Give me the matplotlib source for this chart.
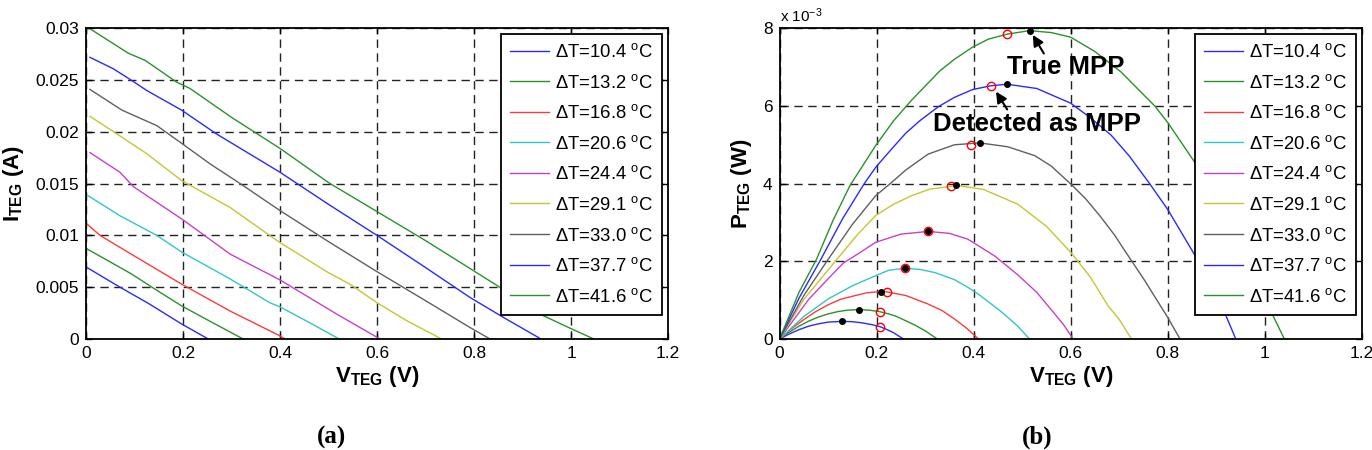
import numpy as np
import matplotlib.pyplot as plt

plt.rcParams['font.family'] = ['Liberation Sans', 'DejaVu Sans']
plt.rcParams['mathtext.fontset'] = 'custom'
plt.rcParams['mathtext.rm'] = 'Liberation Sans'
plt.rcParams['mathtext.it'] = 'Liberation Sans:italic'
plt.rcParams['mathtext.bf'] = 'Liberation Sans:bold'

# temperature differences and line colours (MATLAB style)
delta_t = ['10.4', '13.2', '16.8', '20.6', '24.4', '29.1', '33.0', '37.7', '41.6']
colors = ['#2a2aff', '#2a922a', '#ff3a3a', '#33c6c6', '#c840c8',
          '#c6c633', '#606060', '#2a2aff', '#2a922a']

# ---- (a) I-V curves: voltage (V), current (A)
iv_v_104 = [0.002, 0.07, 0.13, 0.197, 0.252]
iv_i_104 = [0.0069, 0.0050, 0.0034, 0.00145, 0.0]
iv_v_132 = [0.002, 0.093, 0.146, 0.197, 0.26, 0.324]
iv_i_132 = [0.0087, 0.0063, 0.0047, 0.0032, 0.0016, 0.0]
iv_v_168 = [0.002, 0.029, 0.093, 0.197, 0.297, 0.40, 0.41]
iv_i_168 = [0.0111, 0.0100, 0.0082, 0.0053, 0.0027, 0.0003, 0.0]
iv_v_206 = [0.002, 0.07, 0.146, 0.197, 0.297, 0.379, 0.40, 0.46, 0.522]
iv_i_206 = [0.0139, 0.0119, 0.0100, 0.0084, 0.0058, 0.0035, 0.0031, 0.0016, 0.0]
iv_v_244 = [0.008, 0.07, 0.098, 0.197, 0.297, 0.40, 0.517, 0.606]
iv_i_244 = [0.0180, 0.0161, 0.0147, 0.0116, 0.0082, 0.0057, 0.0024, 0.0]
iv_v_291 = [0.008, 0.067, 0.125, 0.197, 0.297, 0.40, 0.50, 0.544, 0.60, 0.66, 0.733]
iv_i_291 = [0.0215, 0.0197, 0.0179, 0.0153, 0.0127, 0.0093, 0.0064, 0.0053, 0.0035, 0.0018, 0.0]
iv_v_330 = [0.008, 0.074, 0.146, 0.197, 0.256, 0.318, 0.40, 0.50, 0.60, 0.70, 0.792, 0.833]
iv_i_330 = [0.0241, 0.0221, 0.0206, 0.0189, 0.0169, 0.0150, 0.0124, 0.0094, 0.0065, 0.0037, 0.0011, 0.0]
iv_v_377 = [0.008, 0.056, 0.093, 0.125, 0.197, 0.269, 0.40, 0.50, 0.60, 0.70, 0.792, 0.86, 0.938]
iv_i_377 = [0.0272, 0.0261, 0.0250, 0.0240, 0.0221, 0.0198, 0.0161, 0.0130, 0.0100, 0.0069, 0.0040, 0.0021, 0.0]
iv_v_416 = [0.01, 0.087, 0.122, 0.187, 0.214, 0.30, 0.40, 0.50, 0.60, 0.70, 0.792, 0.87, 0.936, 1.0, 1.047]
iv_i_416 = [0.0299, 0.0276, 0.0269, 0.0248, 0.0242, 0.0214, 0.0184, 0.0151, 0.0123, 0.0095, 0.0068, 0.0045, 0.0024, 0.0010, 0.0]

# ---- (b) P-V curves: voltage (V), power (x 1e-3 W)
pv_v_104 = [0, 0.02, 0.04, 0.06, 0.08, 0.10, 0.129, 0.15, 0.17, 0.19, 0.206, 0.22, 0.235, 0.255]
pv_p_104 = [0, 0.13, 0.24, 0.33, 0.39, 0.434, 0.455, 0.445, 0.415, 0.37, 0.32, 0.25, 0.16, 0]
pv_v_132 = [0, 0.02, 0.04, 0.06, 0.08, 0.10, 0.12, 0.14, 0.164, 0.185, 0.206, 0.225, 0.24, 0.26, 0.28, 0.30, 0.325]
pv_p_132 = [0, 0.175, 0.33, 0.46, 0.565, 0.645, 0.705, 0.742, 0.757, 0.742, 0.705, 0.645, 0.585, 0.47, 0.35, 0.21, 0]
pv_v_168 = [0, 0.025, 0.05, 0.075, 0.10, 0.125, 0.15, 0.18, 0.208, 0.222, 0.26, 0.306, 0.335, 0.36, 0.385, 0.41]
pv_p_168 = [0, 0.27, 0.50, 0.71, 0.88, 1.02, 1.10, 1.19, 1.22, 1.21, 1.12, 0.90, 0.73, 0.52, 0.28, 0]
pv_v_206 = [0, 0.05, 0.10, 0.15, 0.198, 0.225, 0.258, 0.29, 0.32, 0.36, 0.388, 0.409, 0.457, 0.49, 0.515]
pv_p_206 = [0, 0.58, 1.03, 1.37, 1.63, 1.77, 1.82, 1.79, 1.71, 1.53, 1.33, 1.16, 0.70, 0.34, 0]
pv_v_244 = [0, 0.06, 0.10, 0.131, 0.165, 0.198, 0.25, 0.306, 0.35, 0.388, 0.443, 0.491, 0.53, 0.56, 0.585, 0.605]
pv_p_244 = [0, 1.02, 1.55, 1.95, 2.22, 2.49, 2.70, 2.77, 2.72, 2.57, 2.14, 1.65, 1.20, 0.75, 0.37, 0]
pv_v_291 = [0, 0.05, 0.114, 0.16, 0.198, 0.235, 0.272, 0.31, 0.353, 0.363, 0.42, 0.491, 0.55, 0.60, 0.64, 0.677, 0.70, 0.725]
pv_p_291 = [0, 1.02, 1.99, 2.68, 3.18, 3.47, 3.69, 3.86, 3.93, 3.96, 3.85, 3.47, 2.90, 2.23, 1.60, 0.85, 0.50, 0]
pv_v_330 = [0, 0.05, 0.10, 0.15, 0.198, 0.227, 0.26, 0.306, 0.36, 0.412, 0.47, 0.526, 0.56, 0.60, 0.63, 0.66, 0.69, 0.711, 0.75, 0.78, 0.80, 0.825]
pv_p_330 = [0, 1.12, 2.05, 2.95, 3.69, 3.99, 4.35, 4.76, 5.0, 5.05, 4.95, 4.72, 4.45, 3.99, 3.62, 3.17, 2.68, 2.28, 1.55, 0.95, 0.55, 0]
pv_v_377 = [0, 0.04, 0.085, 0.13, 0.174, 0.198, 0.23, 0.26, 0.29, 0.327, 0.36, 0.397, 0.435, 0.469,
            0.53, 0.60, 0.64, 0.683, 0.72, 0.7625, 0.80, 0.856, 0.89, 0.918, 0.94]
pv_p_377 = [0, 1.05, 2.05, 3.1, 3.99, 4.42, 4.88, 5.3, 5.63, 5.98, 6.22, 6.42, 6.52, 6.56,
            6.45, 6.07, 5.7, 5.25, 4.72, 4.0, 3.33, 2.15, 1.33, 0.65, 0]
pv_v_416 = [0, 0.04, 0.076, 0.11, 0.145, 0.198, 0.235, 0.272, 0.33, 0.36, 0.397, 0.43, 0.469, 0.515,
            0.56, 0.60, 0.65, 0.704, 0.773, 0.80, 0.856, 0.90, 0.94, 0.98, 1.014, 1.04]
pv_p_416 = [0, 1.2, 2.05, 3.05, 3.95, 4.98, 5.62, 6.15, 6.9, 7.2, 7.51, 7.72, 7.85, 7.94,
            7.89, 7.77, 7.4, 6.87, 6.0, 5.57, 4.54, 3.62, 2.62, 1.58, 0.67, 0]

# true MPP (black dots) and detected MPP (red circles)
true_v = [0.129, 0.164, 0.208, 0.258, 0.306, 0.363, 0.412, 0.469, 0.515]
true_p = [0.455, 0.757, 1.22, 1.82, 2.77, 3.96, 5.05, 6.56, 7.94]
det_v = [0.206, 0.206, 0.222, 0.258, 0.306, 0.353, 0.394, 0.435, 0.469]
det_p = [0.32, 0.705, 1.21, 1.82, 2.77, 3.93, 5.0, 6.52, 7.85]

iv_curves = [(iv_v_104, iv_i_104), (iv_v_132, iv_i_132), (iv_v_168, iv_i_168),
             (iv_v_206, iv_i_206), (iv_v_244, iv_i_244), (iv_v_291, iv_i_291),
             (iv_v_330, iv_i_330), (iv_v_377, iv_i_377), (iv_v_416, iv_i_416)]
pv_curves = [(pv_v_104, pv_p_104), (pv_v_132, pv_p_132), (pv_v_168, pv_p_168),
             (pv_v_206, pv_p_206), (pv_v_244, pv_p_244), (pv_v_291, pv_p_291),
             (pv_v_330, pv_p_330), (pv_v_377, pv_p_377), (pv_v_416, pv_p_416)]

fig = plt.figure(figsize=(13.72, 4.5), dpi=100)
ax1 = fig.add_axes([0.0627, 0.2467, 0.4242, 0.6904])
ax2 = fig.add_axes([0.5682, 0.2467, 0.4245, 0.6904])


def style_axes(ax):
    ax.grid(True, color='#222222', linestyle=(0, (6, 4)), linewidth=1.0)
    ax.set_axisbelow(True)
    ax.tick_params(direction='in', length=4, width=1.0, top=True, right=True,
                   labelsize=12.5, pad=5)
    for sp in ax.spines.values():
        sp.set_linewidth(1.3)
    ax.set_xlim(0, 1.2)
    ax.set_xticks(np.arange(0, 1.21, 0.2))
    ax.set_xticklabels(['0', '0.2', '0.4', '0.6', '0.8', '1', '1.2'])
    ax.set_xlabel(r'$\mathbf{V_{TEG}}$ (V)', fontsize=16, fontweight='bold')
    ax.xaxis.set_label_coords(0.5, -0.08)


def add_legend(ax):
    leg = ax.legend(loc='upper right', bbox_to_anchor=(0.99, 0.982), borderaxespad=0,
                    fontsize=13.3, labelspacing=0.68, handlelength=2.1,
                    handletextpad=0.3, borderpad=0.5, fancybox=False,
                    framealpha=1, edgecolor='black')
    leg.get_frame().set_linewidth(1.3)


# ---- panel (a)
for (v, i), c, dt in zip(iv_curves, colors, delta_t):
    ax1.plot(v, i, color=c, lw=1.0, label='\u0394T=' + dt + r' $^{\rm o}$C')
style_axes(ax1)
ax1.set_ylim(0, 0.03)
ax1.set_yticks(np.arange(0, 0.0301, 0.005))
ax1.set_yticklabels(['0', '0.005', '0.01', '0.015', '0.02', '0.025', '0.03'])
ax1.set_ylabel(r'$\mathbf{I_{TEG}}$ (A)', fontsize=16, fontweight='bold')
ax1.yaxis.set_label_coords(-0.103, 0.5)
add_legend(ax1)

# ---- panel (b)
for (v, p), c, dt in zip(pv_curves, colors, delta_t):
    ax2.plot(v, p, color=c, lw=1.0, label='\u0394T=' + dt + r' $^{\rm o}$C')
ax2.plot(det_v, det_p, 'o', mfc='none', mec='red', ms=6, mew=1.0)
ax2.plot(true_v, true_p, 'o', color='black', ms=4)
style_axes(ax2)
ax2.set_ylim(0, 8)
ax2.set_yticks([0, 2, 4, 6, 8])
ax2.set_ylabel(r'$\mathbf{P_{TEG}}$ (W)', fontsize=16, fontweight='bold')
ax2.yaxis.set_label_coords(-0.044, 0.5)
ax2.text(0.0, 1.01, r'x 10$^{-3}$', transform=ax2.transAxes, fontsize=11,
         ha='left', va='bottom')

ax2.annotate('', xy=(0.5187, 7.89), xytext=(0.5475, 7.29),
             arrowprops=dict(arrowstyle='-|>', color='black', lw=1.5, mutation_scale=16))
ax2.text(0.469, 7.0, 'True MPP', fontsize=18.5, fontweight='bold', ha='left', va='center')
ax2.annotate('', xy=(0.443, 6.43), xytext=(0.472, 5.85),
             arrowprops=dict(arrowstyle='-|>', color='black', lw=1.5, mutation_scale=16))
ax2.text(0.3155, 5.53, 'Detected as MPP', fontsize=18.5, fontweight='bold',
         ha='left', va='center')
add_legend(ax2)

fig.text(332 / 1372, 1 - 437 / 450, '(a)', fontsize=18, fontweight='bold',
         family='Liberation Serif', ha='center', va='center')
fig.text(1037 / 1372, 1 - 437 / 450, '(b)', fontsize=18, fontweight='bold',
         family='Liberation Serif', ha='center', va='center')

fig.savefig('out.png', dpi=100)
